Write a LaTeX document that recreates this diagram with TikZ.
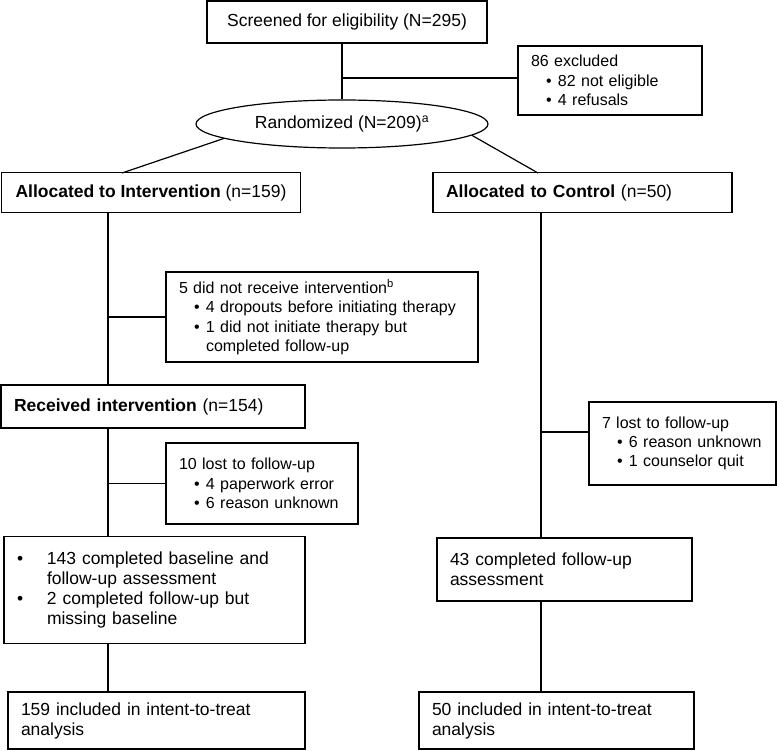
\documentclass[tikz,border=0pt]{standalone}
\usepackage{fontspec}
\setmainfont{Liberation Sans}
\usetikzlibrary{shapes.geometric}

\newcommand{\sbul}{\hspace*{15pt}\makebox[12pt][l]{\textbullet}}
\newcommand{\sgap}{\hspace*{27pt}}
\newcommand{\mbul}{\makebox[30pt][l]{\textbullet}}
\newcommand{\mgap}{\hspace*{30pt}}

\begin{document}
\begin{tikzpicture}[x=1pt, y=-1pt, line width=1.2pt,
  every node/.style={draw, rectangle, inner xsep=13pt, inner ysep=3pt, font=\fontsize{17.5}{20}\selectfont},
  lbox/.style={align=left},
  side/.style={align=left, font=\fontsize{16}{19.3}\selectfont}]
  \useasboundingbox (0,0) rectangle (777,751);
  % screening and randomization
  \node[minimum width=280pt, minimum height=42pt] (scr) at (347,22) {Screened for eligibility (N=295)};
  \node[side, text width=158pt, minimum height=69pt] (excl) at (610,80.5) {86 excluded\\ \sbul 82 not eligible\\ \sbul 4 refusals};
  \node[ellipse, minimum width=292pt, minimum height=48pt, inner sep=0pt] (rand) at (342,124) {Randomized (N=209)\textsuperscript{a}};
  % allocation
  \node[minimum width=299pt, minimum height=40pt] (alI) at (151,192.5) {\textbf{Allocated to Intervention} (n=159)};
  \node[lbox, text width=273pt, minimum height=40pt] (alC) at (582.5,192.5) {\textbf{Allocated to Control} (n=50)};
  % intervention arm
  \node[side, text width=286pt, minimum height=90pt] (nrec) at (322,317) {5 did not receive intervention\textsuperscript{b}\\ \sbul 4 dropouts before initiating therapy\\ \sbul 1 did not initiate therapy but\\ \sgap completed follow-up};
  \node[lbox, text width=278pt, minimum height=43pt] (recv) at (153,406.5) {\textbf{Received intervention} (n=154)};
  \node[side, text width=166pt, minimum height=81pt] (lostI) at (262,483.5) {10 lost to follow-up\\ \sbul 4 paperwork error\\ \sbul 6 reason unknown};
  \node[lbox, text width=275pt, minimum height=107pt] (compI) at (154.5,590) {\mbul 143 completed baseline and\\ \mgap follow-up assessment\\ \mbul 2 completed follow-up but\\ \mgap missing baseline};
  \node[lbox, text width=271pt, minimum height=57pt] (ittI) at (156.5,720.5) {159 included in intent-to-treat\\ analysis};
  % control arm
  \node[side, text width=161pt, minimum height=83pt] (lostC) at (682.5,443.5) {7 lost to follow-up\\ \sbul 6 reason unknown\\ \sbul 1 counselor quit};
  \node[lbox, text width=229pt, minimum height=63pt] (compC) at (564.5,569.5) {43 completed follow-up\\ assessment};
  \node[lbox, text width=249pt, minimum height=57pt] (ittC) at (556.5,720.5) {50 included in intent-to-treat\\ analysis};
  % trunk and junction points
  \coordinate (tI) at (108,0);
  \coordinate (tC) at (541,0);
  \coordinate (jE) at (342,78);
  \coordinate (jC) at (541,432);
  \coordinate (aI) at (122,173);
  \coordinate (aC) at (538,173);
  \draw (scr.south -| rand.north) -- (rand.north);
  \draw (jE) -- (jE -| excl.west);
  \draw (rand.187) -- (aI);
  \draw (rand.355) -- (aC);
  \draw (alI.south -| tI) -- (recv.north -| tI);
  \draw (tI |- nrec.west) -- (nrec.west);
  \draw (recv.south -| tI) -- (compI.north -| tI);
  \draw (tI |- lostI.west) -- (lostI.west);
  \draw (compI.south -| tI) -- (ittI.north -| tI);
  \draw (alC.south -| tC) -- (compC.north -| tC);
  \draw (jC) -- (jC -| lostC.west);
  \draw (compC.south -| tC) -- (ittC.north -| tC);
\end{tikzpicture}
\end{document}
